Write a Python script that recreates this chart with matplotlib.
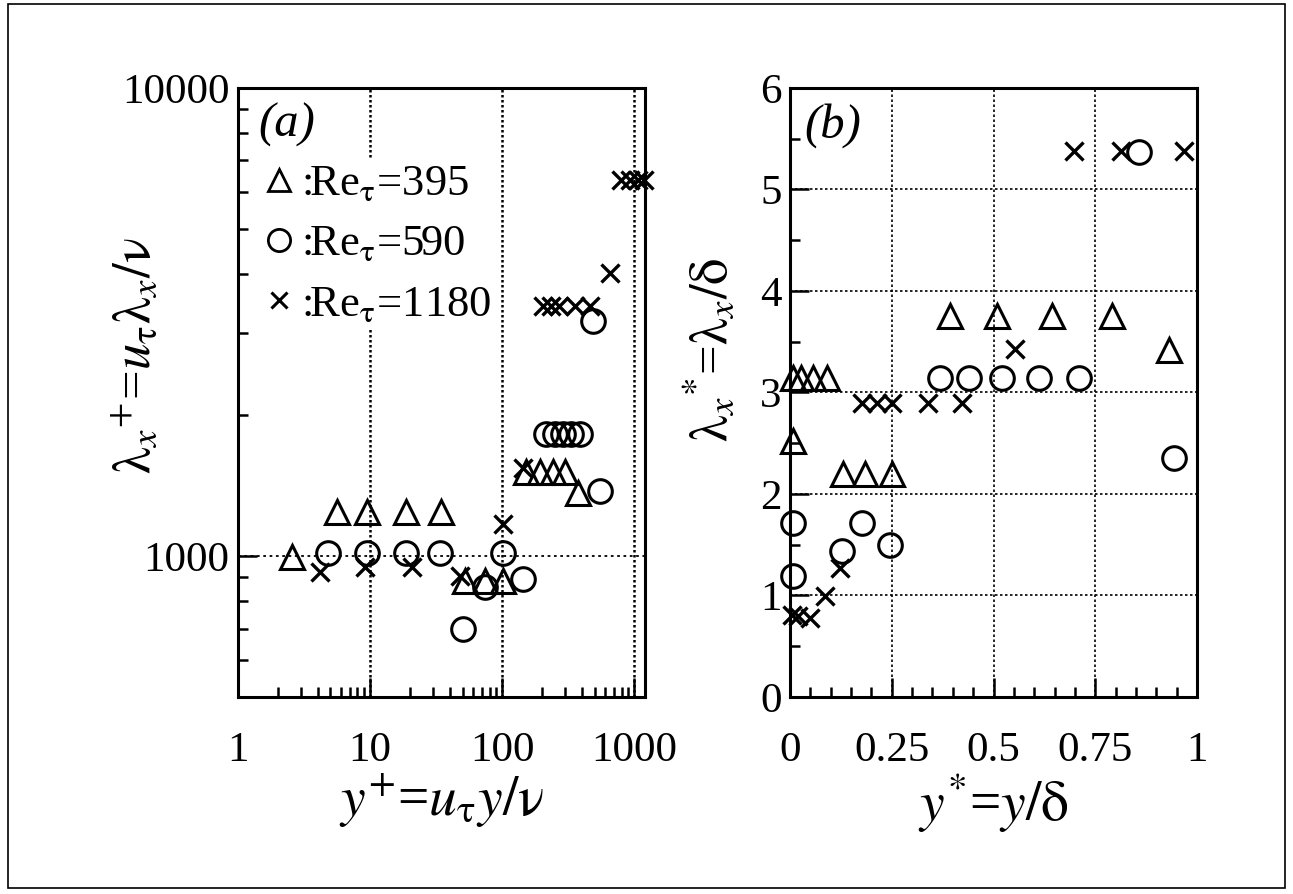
import matplotlib
matplotlib.use("Agg")
import matplotlib.pyplot as plt
from matplotlib.ticker import FixedLocator, FixedFormatter, NullFormatter, MultipleLocator
from matplotlib.patches import Rectangle
from matplotlib.lines import Line2D

plt.rcParams['font.family'] = ['Liberation Serif', 'DejaVu Serif']
plt.rcParams['mathtext.fontset'] = 'stix'

# ---------------- data: panel (a) ----------------
a_tri_x = [2.55, 5.57, 9.4, 18.8, 34.4, 52, 73.6, 100.7, 152, 192, 242, 297, 373]
a_tri_y = [994, 1244, 1244, 1244, 1244, 884, 884, 884, 1509, 1509, 1509, 1509, 1363]
a_cir_x = [4.82, 9.4, 18.8, 33.6, 101, 50.6, 73.6, 143, 215, 249, 288, 333, 385, 545, 485]
a_cir_y = [1015, 1015, 1015, 1015, 1015, 699, 857, 893, 1820, 1820, 1820, 1820, 1820, 1378, 3172]
a_crs_x = [4.17, 9.1, 20.6, 47.6, 101, 143, 202, 232, 267, 352, 458, 648, 795, 918, 1061, 1180]
a_crs_y = [923, 946, 946, 908, 1170, 1545, 3420, 3420, 3420, 3420, 3420, 4024, 6363, 6363, 6363, 6363]

# ---------------- data: panel (b) ----------------
b_tri_x = [0.008, 0.026, 0.057, 0.090, 0.008, 0.13, 0.185, 0.25, 0.394, 0.508, 0.644, 0.791, 0.931]
b_tri_y = [3.14, 3.14, 3.14, 3.14, 2.52, 2.2, 2.2, 2.2, 3.75, 3.75, 3.75, 3.75, 3.42]
b_cir_x = [0.008, 0.176, 0.246, 0.127, 0.008, 0.369, 0.439, 0.521, 0.611, 0.709, 0.857, 0.943]
b_cir_y = [1.715, 1.715, 1.50, 1.44, 1.19, 3.14, 3.14, 3.14, 3.14, 3.14, 5.37, 2.355]
b_crs_x = [0.004, 0.02, 0.049, 0.086, 0.123, 0.176, 0.213, 0.25, 0.34, 0.422, 0.553, 0.697, 0.812, 0.968]
b_crs_y = [0.81, 0.80, 0.78, 0.99, 1.27, 2.9, 2.9, 2.9, 2.9, 2.9, 3.43, 5.38, 5.38, 5.38]

labels = [':Re$_{\\mathrm{\\tau}}$=395', ':Re$_{\\mathrm{\\tau}}$=590', ':Re$_{\\mathrm{\\tau}}$=1180']

a_xticks = [1, 10, 100, 1000]
a_xticklabels = ['1', '10', '100', '1000']
a_yticks = [1000, 10000]
a_yticklabels = ['1000', '10000']
b_xticks = [0, 0.25, 0.5, 0.75, 1]
b_xticklabels = ['0', '0.25', '0.5', '0.75', '1']
b_yticks = [0, 1, 2, 3, 4, 5, 6]

FS = 31
XLFS = 40
YLFS = 38
tri_kw = dict(marker='^', ms=17, mfc='none', mec='black', mew=2.2, ls='none', clip_on=False, zorder=5)
cir_kw = dict(marker='o', ms=17, mfc='none', mec='black', mew=2.2, ls='none', clip_on=False, zorder=5)
crs_kw = dict(marker='x', ms=13, mfc='none', mec='black', mew=2.4, ls='none', clip_on=False, zorder=5)

fig = plt.figure(figsize=(12.93, 8.94), dpi=100)
fig.patches.append(Rectangle((0.006, 0.007), 0.988, 0.988, transform=fig.transFigure,
                             fill=False, edgecolor='black', linewidth=1.2))

axa = fig.add_axes([0.1841, 0.2204, 0.4988 - 0.1841, 0.9016 - 0.2204])
axb = fig.add_axes([0.611, 0.2204, 0.9258 - 0.611, 0.9016 - 0.2204])

for ax in (axa, axb):
    for s in ax.spines.values():
        s.set_linewidth(2.2)
    ax.tick_params(which='both', direction='in', top=False, right=False, width=1.8,
                   labelsize=FS, colors='black')
    ax.tick_params(which='major', length=14)
    ax.tick_params(which='minor', length=7)

# ---- panel (a)
axa.set_xscale('log')
axa.set_yscale('log')
axa.set_xlim(1, 1200)
axa.set_ylim(500, 10000)
axa.xaxis.set_major_locator(FixedLocator(a_xticks))
axa.xaxis.set_major_formatter(FixedFormatter(a_xticklabels))
axa.xaxis.set_minor_locator(FixedLocator([m * d for d in (1, 10, 100) for m in range(2, 10)]))
axa.xaxis.set_minor_formatter(NullFormatter())
axa.yaxis.set_major_locator(FixedLocator(a_yticks))
axa.yaxis.set_major_formatter(FixedFormatter(a_yticklabels))
axa.yaxis.set_minor_locator(FixedLocator([600, 700, 800, 900] + [m * 1000 for m in range(2, 10)]))
axa.yaxis.set_minor_formatter(NullFormatter())
axa.tick_params(axis='x', which='major', pad=25)
axa.tick_params(axis='y', which='major', pad=6)
axa.grid(True, which='major', axis='x', linestyle=(0, (1.0, 1.0)), color='black', linewidth=1.8)
axa.grid(True, which='major', axis='y', linestyle=(0, (1.5, 2.0)), color='black', linewidth=1.3)

axa.plot(a_tri_x, a_tri_y, **tri_kw)
axa.plot(a_cir_x, a_cir_y, **cir_kw)
axa.plot(a_crs_x, a_crs_y, **crs_kw)

handles = [Line2D([], [], marker='^', ms=16, mfc='none', mec='black', mew=2.0, ls='none'),
           Line2D([], [], marker='o', ms=16, mfc='none', mec='black', mew=2.0, ls='none'),
           Line2D([], [], marker='x', ms=12, mfc='none', mec='black', mew=2.2, ls='none')]
leg = axa.legend(handles, labels, loc='upper left', bbox_to_anchor=(0.045, 0.882),
                 frameon=True, fontsize=32, handletextpad=0.1, handlelength=0.8,
                 labelspacing=0.45, borderpad=0.1, borderaxespad=0.0)
leg.get_frame().set_edgecolor('none')
leg.get_frame().set_facecolor('white')
leg.get_frame().set_alpha(1.0)
leg.set_zorder(6)

axa.text(0.05, 0.975, '(a)', transform=axa.transAxes, fontsize=35, style='italic',
         ha='left', va='top')
axa.set_xlabel('$y^{+}$=$u_{\\mathrm{\\tau}}y/\\mathrm{\\nu}$', fontsize=XLFS)
axa.xaxis.set_label_coords(0.5, -0.123)
axa.set_ylabel('$\\mathrm{\\lambda}_{x}{}^{+}$=$u_{\\mathrm{\\tau}}\\mathrm{\\lambda}_{x}/\\mathrm{\\nu}$', fontsize=YLFS)
axa.yaxis.set_label_coords(-0.19, 0.56)

# ---- panel (b)
axb.set_xlim(0, 1)
axb.set_ylim(0, 6)
axb.xaxis.set_major_locator(FixedLocator(b_xticks))
axb.xaxis.set_major_formatter(FixedFormatter(b_xticklabels))
axb.xaxis.set_minor_locator(MultipleLocator(0.05))
axb.yaxis.set_major_locator(FixedLocator(b_yticks))
axb.yaxis.set_minor_locator(MultipleLocator(0.5))
axb.tick_params(axis='x', which='major', pad=25)
axb.tick_params(axis='y', which='major', pad=6)
axb.grid(True, which='major', linestyle=(0, (1.5, 1.5)), color='black', linewidth=1.2)

axb.plot(b_tri_x, b_tri_y, **tri_kw)
axb.plot(b_cir_x, b_cir_y, **cir_kw)
axb.plot(b_crs_x, b_crs_y, **crs_kw)

axb.text(0.035, 0.975, '(b)', transform=axb.transAxes, fontsize=35, style='italic',
         ha='left', va='top')
axb.set_xlabel('$y^{*}$=$y/\\mathrm{\\delta}$', fontsize=XLFS)
axb.xaxis.set_label_coords(0.5, -0.123)
axb.set_ylabel('$\\mathrm{\\lambda}_{x}{}^{*}$=$\\mathrm{\\lambda}_{x}/\\mathrm{\\delta}$', fontsize=YLFS)
axb.yaxis.set_label_coords(-0.128, 0.57)

fig.savefig('out.png', dpi=100)
